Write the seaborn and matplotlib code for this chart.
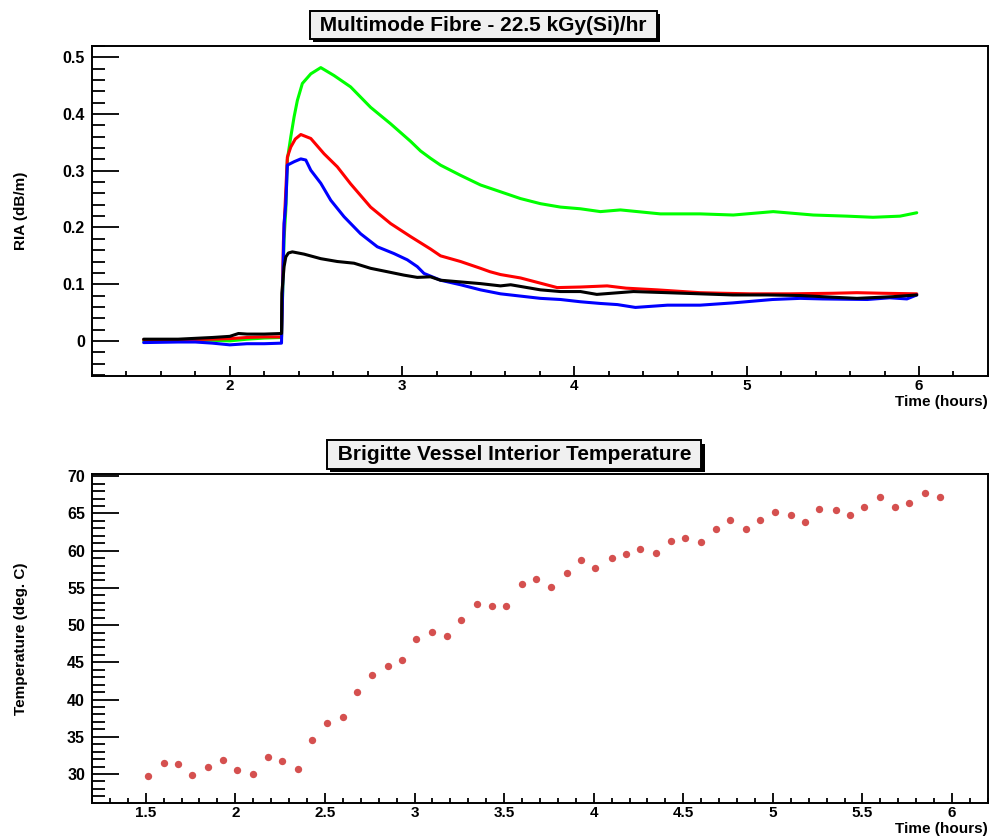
import numpy as np
import pandas as pd
import matplotlib
matplotlib.use('Agg')
import matplotlib.pyplot as plt
import matplotlib.patheffects as pe
from matplotlib.ticker import MultipleLocator, FormatStrFormatter
import seaborn as sns

# RIA traces (time in hours, RIA in dB/m)
green_t = [1.50, 1.70, 1.90, 2.00, 2.10, 2.20, 2.30, 2.315, 2.325, 2.334, 2.354, 2.373, 2.392,
           2.421, 2.470, 2.528, 2.605, 2.701, 2.817, 2.933, 3.049, 3.107, 3.165, 3.223, 3.339,
           3.455, 3.571, 3.687, 3.803, 3.919, 4.035, 4.151, 4.267, 4.499, 4.730, 4.922, 5.154,
           5.386, 5.583, 5.733, 5.890, 5.987]
green_v = [0.000, 0.000, 0.001, 0.000, 0.003, 0.005, 0.006, 0.180, 0.231, 0.320, 0.360, 0.395, 0.424,
           0.454, 0.471, 0.482, 0.468, 0.448, 0.412, 0.383, 0.352, 0.335, 0.322, 0.310, 0.292,
           0.275, 0.263, 0.251, 0.242, 0.236, 0.233, 0.228, 0.231, 0.224, 0.224, 0.222, 0.228,
           0.222, 0.220, 0.218, 0.220, 0.226]

red_t = [1.50, 1.70, 1.90, 2.00, 2.10, 2.20, 2.30, 2.311, 2.334, 2.354, 2.380, 2.412, 2.470,
         2.547, 2.624, 2.701, 2.817, 2.933, 3.049, 3.165, 3.223, 3.339, 3.455, 3.510, 3.571,
         3.687, 3.800, 3.900, 4.035, 4.190, 4.300, 4.480, 4.730, 4.860, 5.020, 5.250, 5.500,
         5.640, 5.790, 5.987]
red_v = [0.002, 0.002, 0.003, 0.004, 0.006, 0.007, 0.007, 0.175, 0.324, 0.342, 0.356, 0.364, 0.357,
         0.330, 0.307, 0.277, 0.236, 0.207, 0.184, 0.162, 0.150, 0.140, 0.128, 0.122, 0.117,
         0.111, 0.102, 0.094, 0.095, 0.097, 0.093, 0.090, 0.085, 0.084, 0.083, 0.083, 0.084,
         0.085, 0.084, 0.083]

blue_t = [1.50, 1.70, 1.80, 1.90, 2.00, 2.10, 2.20, 2.30, 2.315, 2.325, 2.334, 2.373, 2.412,
          2.441, 2.470, 2.528, 2.586, 2.663, 2.759, 2.856, 2.953, 3.030, 3.088, 3.127, 3.223,
          3.339, 3.455, 3.571, 3.687, 3.803, 3.919, 4.035, 4.151, 4.250, 4.354, 4.540, 4.730,
          4.920, 5.150, 5.310, 5.440, 5.700, 5.830, 5.930, 5.987]
blue_v = [-0.003, -0.002, -0.002, -0.004, -0.007, -0.005, -0.005, -0.004, 0.207, 0.242, 0.310,
          0.316, 0.321, 0.319, 0.301, 0.278, 0.248, 0.219, 0.189, 0.166, 0.154, 0.143, 0.131,
          0.119, 0.107, 0.099, 0.090, 0.083, 0.079, 0.075, 0.073, 0.069, 0.066, 0.064, 0.059,
          0.063, 0.063, 0.067, 0.073, 0.075, 0.074, 0.073, 0.076, 0.074, 0.081]

black_t = [1.50, 1.70, 1.90, 2.00, 2.05, 2.10, 2.20, 2.30, 2.302, 2.315, 2.325, 2.340, 2.363,
           2.431, 2.528, 2.624, 2.721, 2.817, 2.914, 3.010, 3.088, 3.165, 3.223, 3.339, 3.455,
           3.571, 3.630, 3.803, 3.919, 4.035, 4.130, 4.343, 4.540, 4.730, 4.920, 5.120, 5.310,
           5.500, 5.640, 5.850, 5.987]
black_v = [0.003, 0.003, 0.006, 0.008, 0.013, 0.012, 0.012, 0.013, 0.084, 0.131, 0.148, 0.155, 0.157,
           0.153, 0.145, 0.140, 0.137, 0.128, 0.122, 0.116, 0.112, 0.113, 0.107, 0.104, 0.101,
           0.097, 0.099, 0.090, 0.087, 0.087, 0.082, 0.087, 0.085, 0.083, 0.081, 0.081, 0.080,
           0.077, 0.075, 0.078, 0.081]

# vessel temperature readings
temp_t = [1.51, 1.60, 1.68, 1.76, 1.85, 1.93, 2.01, 2.10, 2.18, 2.26, 2.35, 2.43, 2.51, 2.60,
          2.68, 2.76, 2.85, 2.93, 3.01, 3.10, 3.18, 3.26, 3.35, 3.43, 3.51, 3.60, 3.68, 3.76,
          3.85, 3.93, 4.01, 4.10, 4.18, 4.26, 4.35, 4.43, 4.51, 4.60, 4.68, 4.76, 4.85, 4.93,
          5.01, 5.10, 5.18, 5.26, 5.35, 5.43, 5.51, 5.60, 5.68, 5.76, 5.85, 5.93]
temp_v = [29.73, 31.52, 31.34, 29.82, 30.94, 31.83, 30.54, 30.04, 32.32, 31.74, 30.71, 34.56,
          36.88, 37.69, 40.95, 43.27, 44.48, 45.28, 48.10, 49.08, 48.50, 50.69, 52.88, 52.53,
          52.61, 55.52, 56.15, 55.12, 57.04, 58.74, 57.62, 58.96, 59.54, 60.26, 59.63, 61.24,
          61.64, 61.15, 62.85, 64.15, 62.94, 64.06, 65.17, 64.73, 63.83, 65.58, 65.44, 64.86,
          65.84, 67.27, 65.84, 66.38, 67.77, 67.27]

ria = pd.concat([
    pd.DataFrame({'time': green_t, 'ria': green_v, 'trace': 'green'}),
    pd.DataFrame({'time': red_t, 'ria': red_v, 'trace': 'red'}),
    pd.DataFrame({'time': blue_t, 'ria': blue_v, 'trace': 'blue'}),
    pd.DataFrame({'time': black_t, 'ria': black_v, 'trace': 'black'}),
])
palette = {'green': '#00ff00', 'red': '#ff0000', 'blue': '#0000ff', 'black': '#000000'}

sns.set_theme(style='white')
plt.rcParams['font.family'] = ['Liberation Sans', 'DejaVu Sans']
plt.rcParams['font.weight'] = 'bold'
plt.rcParams['axes.labelweight'] = 'bold'
for key in ('text.color', 'axes.labelcolor', 'xtick.color', 'ytick.color'):
    plt.rcParams[key] = 'black'

fig = plt.figure(figsize=(9.89, 8.36), dpi=100)
ax1 = fig.add_axes([0.0930, 0.5502, 0.9059, 0.3947])
ax2 = fig.add_axes([0.0930, 0.0395, 0.9059, 0.3935])

sns.lineplot(data=ria, x='time', y='ria', hue='trace', palette=palette, sort=False,
             estimator=None, linewidth=2.2, legend=False, ax=ax1)
sns.scatterplot(x=temp_t, y=temp_v, color='#d5504f', s=28, linewidth=0, ax=ax2)

ax1.set_xlim(1.2, 6.4)
ax1.set_ylim(-0.062, 0.52)
ax1.xaxis.set_major_locator(MultipleLocator(1))
ax1.xaxis.set_minor_locator(MultipleLocator(0.2))
ax1.yaxis.set_major_locator(MultipleLocator(0.1))
ax1.yaxis.set_minor_locator(MultipleLocator(0.02))
ax1.set_ylabel('RIA (dB/m)', fontsize=11)

ax2.set_xlim(1.2, 6.2)
ax2.set_ylim(26.1, 70.3)
ax2.xaxis.set_major_locator(MultipleLocator(0.5))
ax2.xaxis.set_minor_locator(MultipleLocator(0.1))
ax2.yaxis.set_major_locator(MultipleLocator(5))
ax2.yaxis.set_minor_locator(MultipleLocator(1))
ax2.set_ylabel('Temperature (deg. C)', fontsize=11)

for ax in (ax1, ax2):
    ax.xaxis.set_major_formatter(FormatStrFormatter('%g'))
    ax.yaxis.set_major_formatter(FormatStrFormatter('%g'))
    for s in ax.spines.values():
        s.set_color('black')
        s.set_linewidth(1.4)
    ax.tick_params(axis='y', which='major', direction='in', length=19.4, width=1.3,
                   labelsize=11.5, pad=5, left=True, right=False, colors='black')
    ax.tick_params(axis='y', which='minor', direction='in', length=9.7, width=1.3,
                   left=True, right=False, colors='black')
    ax.tick_params(axis='x', which='major', direction='in', length=7.2, width=1.3,
                   labelsize=11, pad=2, bottom=True, top=False, colors='black')
    ax.tick_params(axis='x', which='minor', direction='in', length=3.6, width=1.3,
                   bottom=True, top=False, colors='black')
    for lab in ax.get_xticklabels() + ax.get_yticklabels():
        lab.set_fontweight('bold')
    ax.set_xlabel('Time (hours)', fontsize=11, ha='right', va='top')
    ax.yaxis.set_label_coords(-0.071, 0.5)
    ax.grid(False)

ax1.xaxis.set_label_coords(1.0, -0.058)
ax2.xaxis.set_label_coords(1.0, -0.058)

titles = [('Multimode Fibre - 22.5 kGy(Si)/hr', 0.489, 0.970),
          ('Brigitte Vessel Interior Temperature', 0.520, 0.4563)]
for txt, x, y in titles:
    t = fig.text(x, y, ' ' + txt + ' ', ha='center', va='center', fontsize=15,
                 fontweight='bold', color='black',
                 bbox=dict(boxstyle='square,pad=0.22', fc='#f0f0f0', ec='black', lw=1.4))
    t.get_bbox_patch().set_path_effects([
        pe.SimplePatchShadow(offset=(2.2, -2.2), shadow_rgbFace='black', alpha=1.0),
        pe.Normal()])

plt.savefig('out.png', dpi=100)
